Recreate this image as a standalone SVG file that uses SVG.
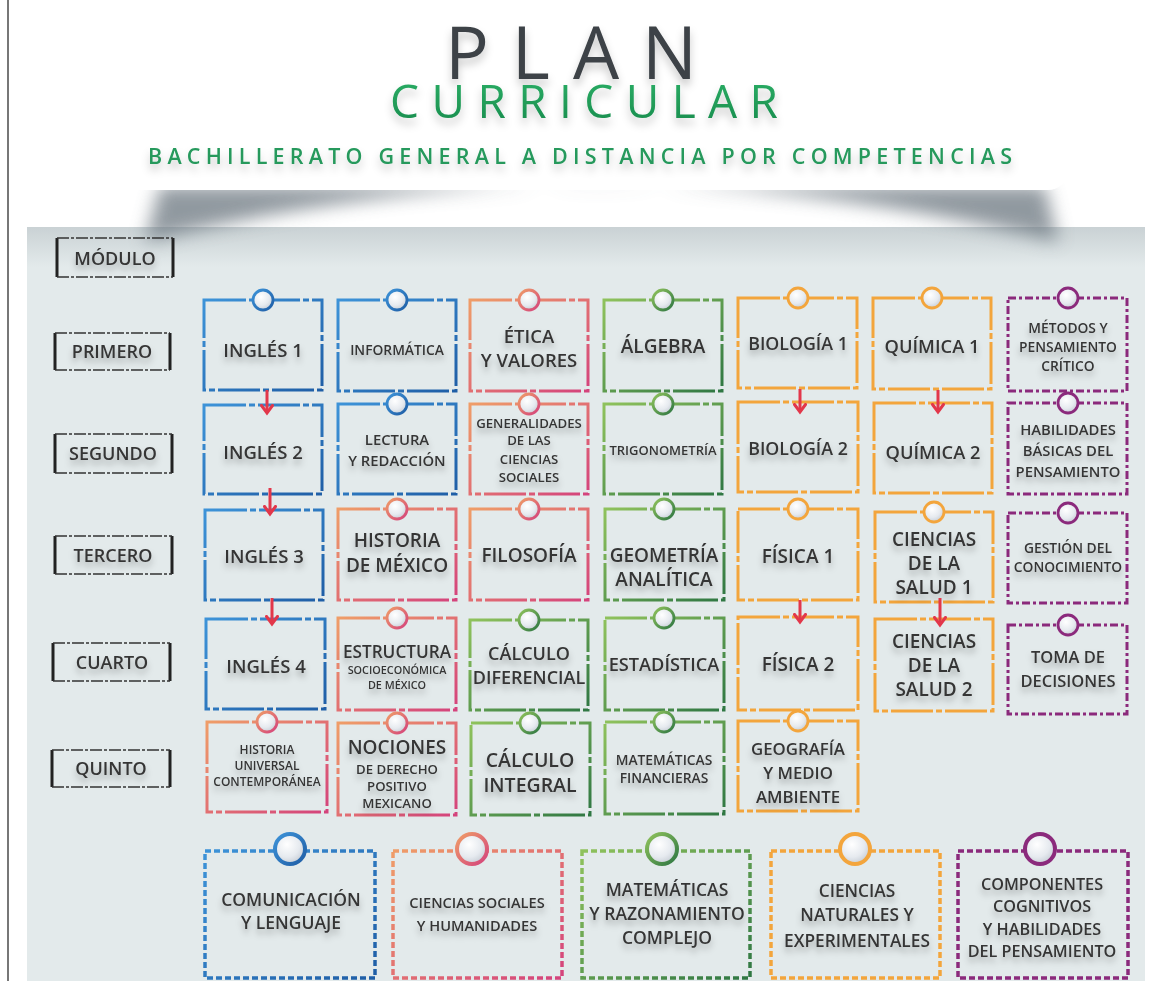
<svg xmlns="http://www.w3.org/2000/svg" width="1165" height="981" viewBox="0 0 1165 981">
<defs>
<style>
.t{font-family:"Open Sans","DejaVu Sans",sans-serif;font-weight:600;fill:#363636;text-anchor:middle;filter:url(#ts);}
.box{fill:none;stroke-width:3;stroke-dasharray:42 3 6 3;}
.pu .box{stroke-dasharray:8 3 3 3;}
.leg .box{stroke-dasharray:6 3;stroke-width:3.5;}
.bl .box,.bl .dot{stroke:url(#gB);}
.pk .box,.pk .dot{stroke:url(#gP);}
.gr .box,.gr .dot{stroke:url(#gG);}
.or .box,.or .dot{stroke:#f3a53c;}
.pu .box,.pu .dot{stroke:#8b2a7c;}
.dot{fill:url(#gC);stroke-width:2.8;}
.leg .dot{stroke-width:4;}
.ls{stroke:#222;stroke-width:3;fill:none;}
.ld{stroke:#333;stroke-width:1.5;stroke-dasharray:12 2 3 2;fill:none;}
.arr{stroke:#e2374a;stroke-width:3;fill:none;marker-end:url(#ah);}
</style>
<linearGradient id="gB" x1="0" y1="0" x2="1" y2="1"><stop offset="0" stop-color="#3d93d8"/><stop offset="1" stop-color="#1f5ea6"/></linearGradient>
<linearGradient id="gP" x1="0" y1="0" x2="1" y2="1"><stop offset="0" stop-color="#ef9d68"/><stop offset="1" stop-color="#d4437c"/></linearGradient>
<linearGradient id="gG" x1="0" y1="0" x2="1" y2="1"><stop offset="0" stop-color="#8fc25c"/><stop offset="1" stop-color="#2f7743"/></linearGradient>
<radialGradient id="gC" cx="0.4" cy="0.35" r="0.7"><stop offset="0" stop-color="#ffffff"/><stop offset="0.6" stop-color="#e6eaef"/><stop offset="1" stop-color="#c3cad3"/></radialGradient>
<linearGradient id="gTitle" x1="0" y1="0" x2="0" y2="1"><stop offset="0" stop-color="#2fb36a"/><stop offset="1" stop-color="#16894a"/></linearGradient>
<linearGradient id="gPanelTop" x1="0" y1="0" x2="0" y2="1"><stop offset="0" stop-color="#9aa4aa" stop-opacity="0.35"/><stop offset="1" stop-color="#9aa4aa" stop-opacity="0"/></linearGradient>
<filter id="ts" x="-20%" y="-60%" width="140%" height="260%"><feDropShadow dx="0" dy="5" stdDeviation="3" flood-color="#000" flood-opacity="0.28"/></filter>
<filter id="tts" x="-10%" y="-40%" width="120%" height="200%"><feDropShadow dx="0" dy="6" stdDeviation="4" flood-color="#000" flood-opacity="0.22"/></filter>
<filter id="blur" x="-20%" y="-100%" width="140%" height="300%"><feGaussianBlur stdDeviation="9"/></filter>
<marker id="ah" viewBox="0 0 12 14" refX="9" refY="7" markerWidth="12" markerHeight="14" markerUnits="userSpaceOnUse" orient="auto"><path d="M1.5,1.5 L9,7 L1.5,12.5" fill="none" stroke="#e2374a" stroke-width="3" stroke-linecap="round"/></marker>
</defs>

<rect width="1165" height="981" fill="#ffffff"/>
<rect x="27" y="227" width="1118" height="754" fill="#e3eaeb"/>
<rect x="27" y="227" width="1118" height="40" fill="url(#gPanelTop)"/>
<path d="M160,186 L1045,186 L1058,242 Q600,128 145,242 Z" fill="#6c7780" opacity="0.75" filter="url(#blur)"/>
<rect x="118" y="-20" width="950" height="210" rx="20" fill="#ffffff"/>
<line x1="8" y1="0" x2="8" y2="981" stroke="#4a4a4a" stroke-width="1.5"/>

<g id="title" style="font-family:'Open Sans','DejaVu Sans',sans-serif;filter:url(#tts)">
<text x="445" y="79" textLength="252" lengthAdjust="spacing" font-size="73" font-weight="400" fill="#3d4247">PLAN</text>
<text x="390" y="118" textLength="388" lengthAdjust="spacing" font-size="46" font-weight="400" fill="url(#gTitle)">CURRICULAR</text>
<text x="148" y="164" textLength="864" lengthAdjust="spacing" font-size="21.5" font-weight="600" fill="#25995c">BACHILLERATO GENERAL A DISTANCIA POR COMPETENCIAS</text>
</g>

<g id="lbl-modulo"><path class="ls" d="M57,238V277M173,238V277"/><path class="ld" d="M57,238H173M57,277H173"/><text class="t" x="115" y="265" font-size="18">MÓDULO</text></g>
<g id="lbl-primero"><path class="ls" d="M55,333V370M170,333V370"/><path class="ld" d="M55,333H170M55,370H170"/><text class="t" x="112" y="358" font-size="18">PRIMERO</text></g>
<g id="lbl-segundo"><path class="ls" d="M55,434V473M172,434V473"/><path class="ld" d="M55,434H172M55,473H172"/><text class="t" x="113" y="460" font-size="18">SEGUNDO</text></g>
<g id="lbl-tercero"><path class="ls" d="M55,536V574M172,536V574"/><path class="ld" d="M55,536H172M55,574H172"/><text class="t" x="113" y="562" font-size="18">TERCERO</text></g>
<g id="lbl-cuarto"><path class="ls" d="M53,643V681M170,643V681"/><path class="ld" d="M53,643H170M53,681H170"/><text class="t" x="112" y="669" font-size="18">CUARTO</text></g>
<g id="lbl-quinto"><path class="ls" d="M52,750V787M170,750V787"/><path class="ld" d="M52,750H170M52,787H170"/><text class="t" x="111" y="775" font-size="18">QUINTO</text></g>

<!-- Row 1 -->
<g id="ingles1" class="bl"><rect class="box" x="204" y="300" width="118" height="90"/><circle class="dot" cx="263" cy="300" r="10"/><text class="t" x="263" y="357" font-size="18.5">INGLÉS 1</text></g>
<g id="informatica" class="bl"><rect class="box" x="338" y="300" width="118" height="91"/><circle class="dot" cx="397" cy="300" r="10"/><text class="t" x="397" y="355" font-size="13.8">INFORMÁTICA</text></g>
<g id="etica" class="pk"><rect class="box" x="470" y="300" width="118" height="91"/><circle class="dot" cx="529" cy="300" r="10"/><text class="t" x="529" y="343" font-size="18.5">ÉTICA</text><text class="t" x="529" y="367" font-size="18.5">Y VALORES</text></g>
<g id="algebra" class="gr"><rect class="box" x="604" y="300" width="118" height="91"/><circle class="dot" cx="663" cy="300" r="10"/><text class="t" x="663" y="353" font-size="19">ÁLGEBRA</text></g>
<g id="biologia1" class="or"><rect class="box" x="738" y="298" width="119" height="90"/><circle class="dot" cx="798" cy="298" r="10"/><text class="t" x="798" y="350" font-size="17.8">BIOLOGÍA 1</text></g>
<g id="quimica1" class="or"><rect class="box" x="873" y="298" width="118" height="91"/><circle class="dot" cx="932" cy="298" r="10"/><text class="t" x="932" y="353" font-size="18.3">QUÍMICA 1</text></g>
<g id="metodos" class="pu"><rect class="box" x="1008" y="298" width="119" height="93"/><circle class="dot" cx="1068" cy="298" r="10"/><text class="t" x="1068" y="333" font-size="13.8">MÉTODOS Y</text><text class="t" x="1068" y="352" font-size="13.8">PENSAMIENTO</text><text class="t" x="1068" y="371" font-size="13.8">CRÍTICO</text></g>

<!-- Row 2 -->
<g id="ingles2" class="bl"><rect class="box" x="204" y="405" width="118" height="89"/><text class="t" x="263" y="459" font-size="18.5">INGLÉS 2</text></g>
<g id="lectura" class="bl"><rect class="box" x="338" y="404" width="118" height="90"/><circle class="dot" cx="397" cy="404" r="10"/><text class="t" x="397" y="445" font-size="14.8">LECTURA</text><text class="t" x="397" y="466" font-size="14.8">Y REDACCIÓN</text></g>
<g id="generalidades" class="pk"><rect class="box" x="470" y="404" width="118" height="90"/><circle class="dot" cx="529" cy="404" r="10"/><text class="t" x="529" y="428" font-size="13.2">GENERALIDADES</text><text class="t" x="529" y="445" font-size="13.2">DE LAS</text><text class="t" x="529" y="464" font-size="13.2">CIENCIAS</text><text class="t" x="529" y="482" font-size="13.2">SOCIALES</text></g>
<g id="trigonometria" class="gr"><rect class="box" x="604" y="404" width="118" height="90"/><circle class="dot" cx="663" cy="404" r="10"/><text class="t" x="663" y="455" font-size="13">TRIGONOMETRÍA</text></g>
<g id="biologia2" class="or"><rect class="box" x="738" y="402" width="120" height="90"/><text class="t" x="798" y="455" font-size="17.8">BIOLOGÍA 2</text></g>
<g id="quimica2" class="or"><rect class="box" x="874" y="403" width="118" height="90"/><text class="t" x="933" y="459" font-size="18.3">QUÍMICA 2</text></g>
<g id="habilidades" class="pu"><rect class="box" x="1008" y="403" width="119" height="91"/><circle class="dot" cx="1068" cy="403" r="10"/><text class="t" x="1068" y="435" font-size="14.8">HABILIDADES</text><text class="t" x="1068" y="456" font-size="14.8">BÁSICAS DEL</text><text class="t" x="1068" y="477" font-size="14.8">PENSAMIENTO</text></g>

<!-- Row 3 -->
<g id="ingles3" class="bl"><rect class="box" x="205" y="510" width="118" height="90"/><text class="t" x="264" y="563" font-size="18.5">INGLÉS 3</text></g>
<g id="historiamex" class="pk"><rect class="box" x="338" y="509" width="118" height="91"/><circle class="dot" cx="397" cy="509" r="10"/><text class="t" x="397" y="547" font-size="19">HISTORIA</text><text class="t" x="397" y="572" font-size="19">DE MÉXICO</text></g>
<g id="filosofia" class="pk"><rect class="box" x="470" y="509" width="118" height="91"/><circle class="dot" cx="529" cy="509" r="10"/><text class="t" x="529" y="562" font-size="19">FILOSOFÍA</text></g>
<g id="geometria" class="gr"><rect class="box" x="605" y="509" width="119" height="91"/><circle class="dot" cx="664" cy="509" r="10"/><text class="t" x="664" y="562" font-size="19">GEOMETRÍA</text><text class="t" x="664" y="586" font-size="19">ANALÍTICA</text></g>
<g id="fisica1" class="or"><rect class="box" x="738" y="509" width="120" height="91"/><circle class="dot" cx="798" cy="509" r="10"/><text class="t" x="798" y="563" font-size="19">FÍSICA 1</text></g>
<g id="salud1" class="or"><rect class="box" x="875" y="512" width="118" height="90"/><circle class="dot" cx="934" cy="512" r="10"/><text class="t" x="934" y="546" font-size="19">CIENCIAS</text><text class="t" x="934" y="570" font-size="19">DE LA</text><text class="t" x="934" y="594" font-size="19">SALUD 1</text></g>
<g id="gestion" class="pu"><rect class="box" x="1008" y="513" width="119" height="90"/><circle class="dot" cx="1068" cy="513" r="10"/><text class="t" x="1068" y="553" font-size="13.8">GESTIÓN DEL</text><text class="t" x="1068" y="572" font-size="13.8">CONOCIMIENTO</text></g>

<!-- Row 4 -->
<g id="ingles4" class="bl"><rect class="box" x="206" y="619" width="119" height="90"/><text class="t" x="266" y="673" font-size="18.5">INGLÉS 4</text></g>
<g id="estructura" class="pk"><rect class="box" x="338" y="618" width="118" height="92"/><circle class="dot" cx="397" cy="618" r="10"/><text class="t" x="397" y="658" font-size="17.2">ESTRUCTURA</text><text class="t" x="397" y="674" font-size="10.8">SOCIOECONÓMICA</text><text class="t" x="397" y="689" font-size="10.8">DE MÉXICO</text></g>
<g id="calculodif" class="gr"><rect class="box" x="470" y="620" width="118" height="90"/><circle class="dot" cx="529" cy="620" r="10"/><text class="t" x="529" y="660" font-size="18">CÁLCULO</text><text class="t" x="529" y="684" font-size="18">DIFERENCIAL</text></g>
<g id="estadistica" class="gr"><rect class="box" x="605" y="618" width="119" height="92"/><circle class="dot" cx="664" cy="618" r="10"/><text class="t" x="664" y="671" font-size="18.2">ESTADÍSTICA</text></g>
<g id="fisica2" class="or"><rect class="box" x="738" y="617" width="120" height="93"/><text class="t" x="798" y="671" font-size="19">FÍSICA 2</text></g>
<g id="salud2" class="or"><rect class="box" x="875" y="619" width="118" height="92"/><text class="t" x="934" y="648" font-size="19">CIENCIAS</text><text class="t" x="934" y="672" font-size="19">DE LA</text><text class="t" x="934" y="696" font-size="19">SALUD 2</text></g>
<g id="toma" class="pu"><rect class="box" x="1008" y="625" width="119" height="89"/><circle class="dot" cx="1068" cy="625" r="10"/><text class="t" x="1068" y="663" font-size="16.5">TOMA DE</text><text class="t" x="1068" y="687" font-size="16.5">DECISIONES</text></g>

<!-- Row 5 -->
<g id="historiauniv" class="pk"><rect class="box" x="207" y="722" width="120" height="90"/><circle class="dot" cx="267" cy="722" r="10"/><text class="t" x="267" y="754" font-size="12">HISTORIA</text><text class="t" x="267" y="770" font-size="12">UNIVERSAL</text><text class="t" x="267" y="786" font-size="12">CONTEMPORÁNEA</text></g>
<g id="nociones" class="pk"><rect class="box" x="338" y="723" width="118" height="92"/><circle class="dot" cx="397" cy="723" r="10"/><text class="t" x="397" y="754" font-size="19">NOCIONES</text><text class="t" x="397" y="774" font-size="13.2">DE DERECHO</text><text class="t" x="397" y="791" font-size="13.2">POSITIVO</text><text class="t" x="397" y="808" font-size="13.2">MEXICANO</text></g>
<g id="calculoint" class="gr"><rect class="box" x="471" y="723" width="119" height="92"/><circle class="dot" cx="530" cy="723" r="10"/><text class="t" x="530" y="767" font-size="19.5">CÁLCULO</text><text class="t" x="530" y="792" font-size="19.5">INTEGRAL</text></g>
<g id="matfin" class="gr"><rect class="box" x="605" y="722" width="119" height="92"/><circle class="dot" cx="664" cy="722" r="10"/><text class="t" x="664" y="765" font-size="13.8">MATEMÁTICAS</text><text class="t" x="664" y="783" font-size="13.8">FINANCIERAS</text></g>
<g id="geografia" class="or"><rect class="box" x="738" y="721" width="120" height="90"/><circle class="dot" cx="798" cy="721" r="10"/><text class="t" x="798" y="755" font-size="16.8">GEOGRAFÍA</text><text class="t" x="798" y="779" font-size="16.8">Y MEDIO</text><text class="t" x="798" y="803" font-size="16.8">AMBIENTE</text></g>

<!-- Legend -->
<g id="leg-comunicacion" class="leg bl"><rect class="box" x="205" y="851" width="170" height="127"/><circle class="dot" cx="290" cy="849" r="15"/><text class="t" x="291" y="906" font-size="17.5">COMUNICACIÓN</text><text class="t" x="291" y="929" font-size="17.5">Y LENGUAJE</text></g>
<g id="leg-sociales" class="leg pk"><rect class="box" x="393" y="851" width="169" height="127"/><circle class="dot" cx="472" cy="849" r="15"/><text class="t" x="477" y="908" font-size="14.6">CIENCIAS SOCIALES</text><text class="t" x="477" y="931" font-size="14.6">Y HUMANIDADES</text></g>
<g id="leg-matematicas" class="leg gr"><rect class="box" x="582" y="851" width="168" height="127"/><circle class="dot" cx="662" cy="849" r="15"/><text class="t" x="667" y="896" font-size="17.5">MATEMÁTICAS</text><text class="t" x="667" y="920" font-size="17.5">Y RAZONAMIENTO</text><text class="t" x="667" y="944" font-size="17.5">COMPLEJO</text></g>
<g id="leg-naturales" class="leg or"><rect class="box" x="771" y="851" width="169" height="127"/><circle class="dot" cx="855" cy="849" r="15"/><text class="t" x="857" y="897" font-size="17.3">CIENCIAS</text><text class="t" x="857" y="921" font-size="17.3">NATURALES Y</text><text class="t" x="857" y="947" font-size="17.3">EXPERIMENTALES</text></g>
<g id="leg-cognitivos" class="leg pu"><rect class="box" x="958" y="851" width="170" height="127"/><circle class="dot" cx="1040" cy="849" r="15"/><text class="t" x="1042" y="890" font-size="16.2">COMPONENTES</text><text class="t" x="1042" y="912" font-size="16.2">COGNITIVOS</text><text class="t" x="1042" y="935" font-size="16.2">Y HABILIDADES</text><text class="t" x="1042" y="957" font-size="16.2">DEL PENSAMIENTO</text></g>

<g id="connectors">
<line class="arr" x1="267" y1="390" x2="267" y2="413"/>
<line class="arr" x1="270" y1="488" x2="270" y2="514"/>
<line class="arr" x1="272" y1="598" x2="272" y2="624"/>
<line class="arr" x1="800" y1="389" x2="800" y2="412"/>
<line class="arr" x1="938" y1="390" x2="938" y2="412"/>
<line class="arr" x1="800" y1="600" x2="800" y2="622"/>
<line class="arr" x1="940" y1="598" x2="940" y2="625"/>
</g>
</svg>
